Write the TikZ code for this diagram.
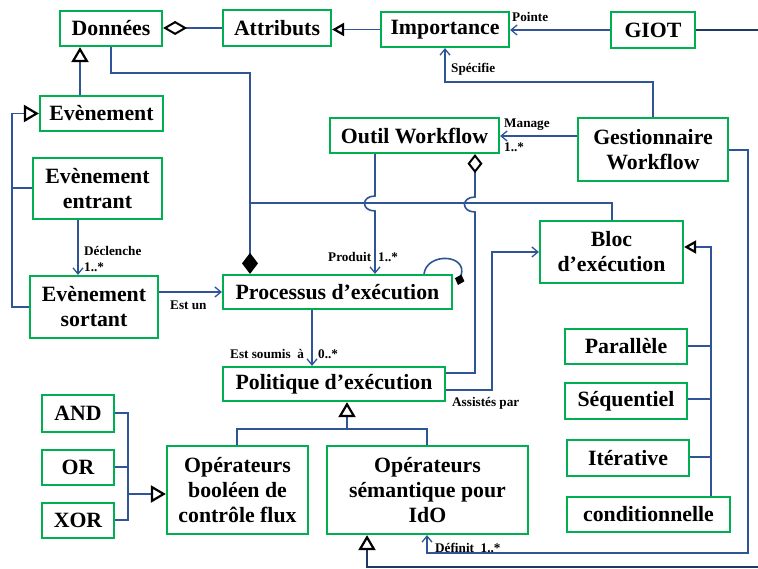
\documentclass[tikz,border=0pt]{standalone}
\usepackage{fontspec}
\setmainfont{Liberation Serif}
\usetikzlibrary{arrows.meta}
\definecolor{boxgreen}{HTML}{00B050}
\definecolor{lineblue}{HTML}{2F5597}
\definecolor{navyline}{HTML}{203864}
\newcommand\bx[6]{\node[box, minimum width={(#4-#2)*1pt}, minimum height={(#5-#3)*1pt}] (#1) at ({(#2+#4)/2},{(#3+#5)/2}) {#6};}
\tikzset{
  box/.style={draw=boxgreen, line width=2.2pt, fill=white, align=center, inner sep=0pt,
    font=\fontsize{21.8}{25}\selectfont\bfseries},
  conn/.style={draw=lineblue, line width=1.6pt},
  nav/.style={conn, -{Straight Barb[length=6pt,width=10pt,line width=1.3pt]}},
  gen/.style={conn, -{Triangle[open,length=15pt,width=17pt,line width=2.2pt,color=black]}},
  gensmall/.style={conn, -{Triangle[open,length=12pt,width=13pt,line width=2.2pt,color=black]}},
  lbl/.style={font=\fontsize{13.2}{15}\selectfont\bfseries, inner sep=0pt, anchor=west},
}
\begin{document}
\begin{tikzpicture}[x=1pt,y=-1pt]
\useasboundingbox (0,0) rectangle (758,569);
\fill[white] (0,0) rectangle (758,569);
% boxes
\bx{don}{60}{11}{162}{46}{Données}
\bx{att}{223}{10}{331}{46}{Attributs}
\bx{imp}{381}{12}{509}{47}{Importance}
\bx{giot}{611}{12}{695}{48}{GIOT}
\bx{owf}{330}{118}{499}{153}{Outil Workflow}
\bx{ges}{578}{118}{728}{181}{Gestionnaire\\Workflow}
\bx{eve}{40}{96}{163}{131}{Evènement}
\bx{ent}{33}{158}{162}{219}{Evènement\\entrant}
\bx{sor}{30}{276}{158}{338}{Evènement\\sortant}
\bx{pro}{223}{275}{452}{309}{Processus d’exécution}
\bx{pol}{223}{367}{445}{401}{Politique d’exécution}
\bx{blc}{540}{221}{683}{283}{Bloc\\d’exécution}
\bx{par}{565}{329}{687}{364}{Parallèle}
\bx{seq}{565}{383}{687}{419}{Séquentiel}
\bx{ite}{567}{440}{689}{476}{Itérative}
\bx{con}{567}{497}{730}{532}{conditionnelle}
\bx{nand}{42}{395}{114}{432}{AND}
\bx{nor}{42}{450}{114}{485}{OR}
\bx{nxor}{42}{503}{114}{538}{XOR}
\bx{boo}{167}{446}{308}{534}{Opérateurs\\booléen de\\contrôle flux}
\bx{sem}{327}{446}{528}{534}{Opérateurs\\sémantique pour\\IdO}
% connectors
\draw[conn, -{Diamond[open,length=24pt,width=14pt,line width=2pt,color=black]}] (att.west) -- (att.west -| don.east);
\draw[gensmall] (imp.west) -- (imp.west -| att.east);
\draw[nav] (giot.west) -- (giot.west -| imp.east);
\draw[draw=navyline, line width=1.8pt, -{Triangle[open,length=15pt,width=17pt,line width=2.2pt,color=black]}]
  (giot.east) -- (762,0 |- giot.east) -- (762,567) -- (367,567) -- (367,0 |- sem.south);
\draw[nav] (653,0 |- ges.north) -- (653,82) -- (445,82) -- (445,0 |- imp.south);
\draw[nav] (ges.west |- 0,136) -- (owf.east |- 0,136);
\draw[nav] (ges.east |- 0,150) -- (748,150) -- (748,553) -- (427,553) -- (427,0 |- sem.south);
\draw[conn, -{Diamond[length=21pt,width=16pt,color=black]}] (111,0 |- don.south) -- (111,73) -- (250,73) -- (250,0 |- pro.north);
\draw[gen] (80,0 |- eve.north) -- (80,0 |- don.south);
\draw[gen] (sor.west |- 0,307) -- (12,307) -- (12,0 |- eve.west) -- (eve.west);
\draw[conn] (ent.west |- 0,188) -- (12,188);
\draw[nav] (78,0 |- ent.south) -- (78,0 |- sor.north);
\draw[nav] (sor.east |- 0,292) -- (pro.west |- 0,292);
\draw[conn] (250,203) -- (612,203) -- (612,0 |- blc.north);
\draw[nav] (375,0 |- owf.south) -- (375,196) .. controls (361,196) and (361,211) .. (375,211) -- (375,0 |- pro.north);
\draw[conn, {Diamond[open,length=19pt,width=15pt,line width=2pt,color=black]}-] (475,0 |- owf.south) -- (475,197) .. controls (461,197) and (461,212) .. (475,212) -- (475,373) -- (pol.east |- 0,373);
\draw[nav] (pol.east |- 0,390) -- (492,390) -- (492,252) -- (blc.west |- 0,252);
\draw[nav] (312,0 |- pro.south) -- (312,0 |- pol.north);
\draw[conn, -{Diamond[length=11pt,width=10pt,color=black]}] (424,0 |- pro.north) .. controls (427,252) and (468,254) .. (458,285);
\draw[gen] (237,0 |- boo.north) -- (237,429) -- (347,429) -- (347,0 |- pol.south);
\draw[conn] (427,0 |- sem.north) -- (427,429) -- (347,429);
\draw[conn] (nand.east |- 0,413) -- (128,413) -- (128,520) -- (nxor.east |- 0,520);
\draw[conn] (nor.east |- 0,467) -- (128,467);
\draw[gen] (128,494) -- (boo.west |- 0,494);
\draw[gensmall] (711,0 |- con.north) -- (711,247) -- (blc.east |- 0,247);
\draw[conn] (par.east |- 0,346) -- (711,346);
\draw[conn] (seq.east |- 0,399) -- (711,399);
\draw[conn] (ite.east |- 0,457) -- (711,457);
% labels
\node[lbl] (lpointe) at (512,17) {Pointe};
\node[lbl] (lspec) at (451,69) {Spécifie};
\node[lbl] (lmanage) at (504,125) {Manage};
\node[lbl] (lmanm) at (504,147) {1..*};
\node[lbl] (ldecl) at (84,251) {Déclenche};
\node[lbl] (ldeclm) at (84,267) {1..*};
\node[lbl] (lestun) at (170,305) {Est un};
\node[lbl] (lprod) at (328,257) {Produit};
\node[lbl] (lprodm) at (378,257) {1..*};
\node[lbl] (lsoum) at (230,354) {Est soumis \ à};
\node[lbl] (lsoumm) at (318,354) {0..*};
\node[lbl] (lassist) at (452,403) {Assistés par};
\node[lbl] (ldef) at (435,548) {Définit \ 1..*};
\end{tikzpicture}
\end{document}
